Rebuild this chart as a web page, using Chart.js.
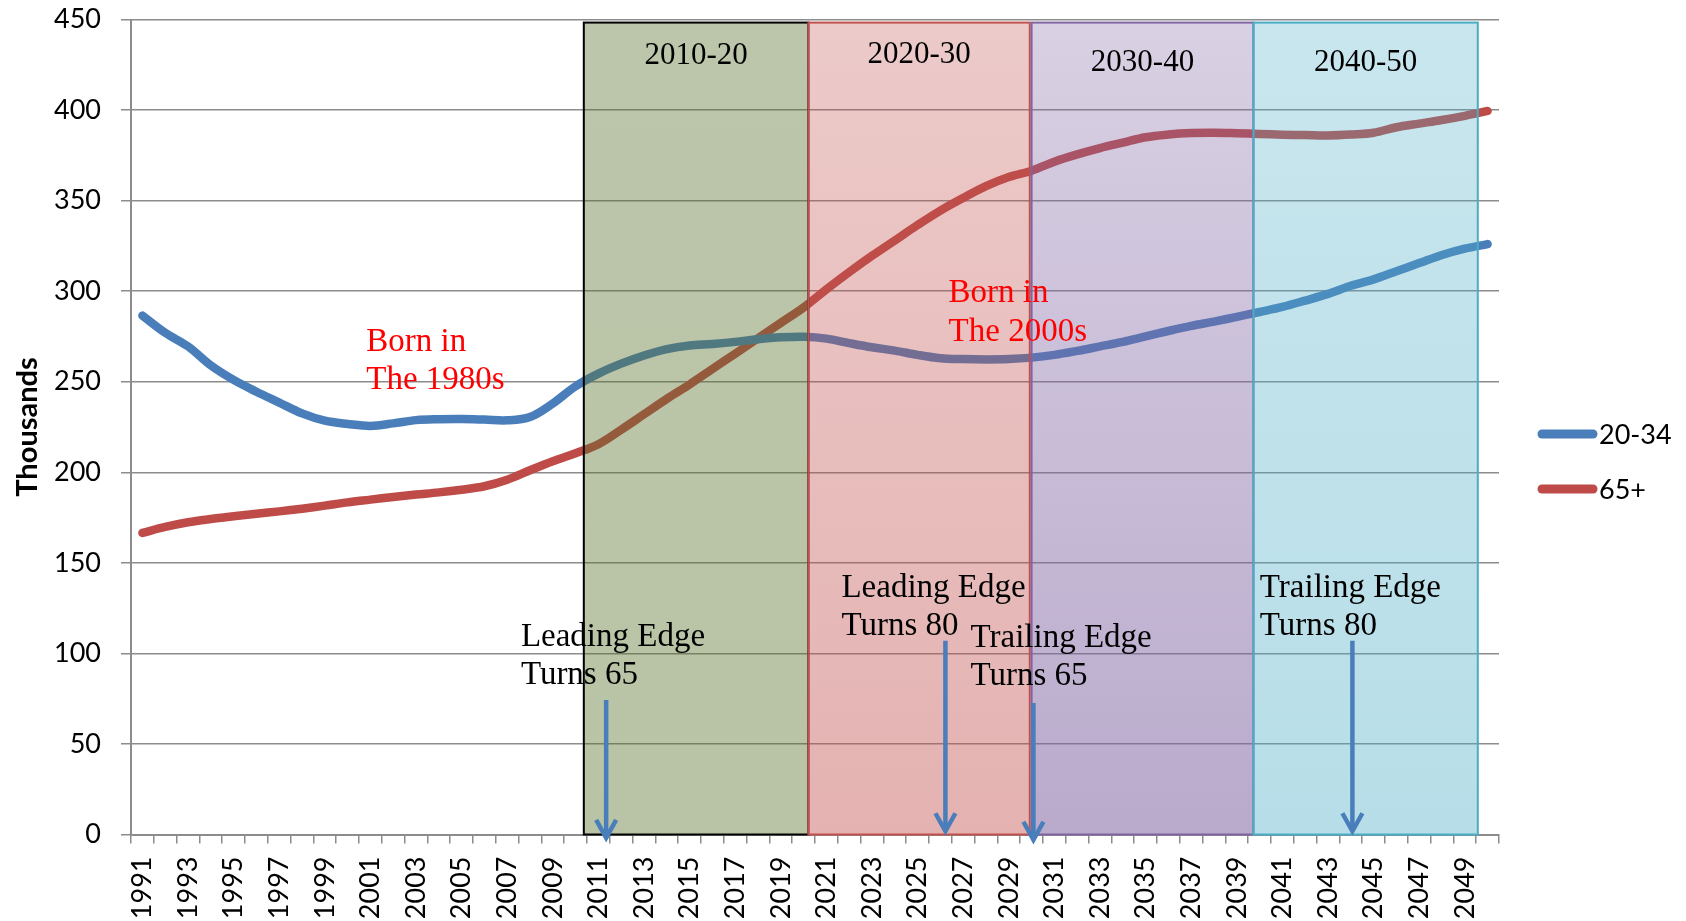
<!DOCTYPE html>
<html>
<head>
<meta charset="utf-8">
<script src="https://cdn.jsdelivr.net/npm/chart.js@4.4.1/dist/chart.umd.min.js"></script>
<style>
  html, body { margin: 0; padding: 0; background: #fff; }
  canvas { display: block; }
</style>
</head>
<body>
<canvas id="popChart" width="1686" height="921"></canvas>
<script>
// --- DATA ---
const years = [
  '1991','1992','1993','1994','1995','1996','1997','1998','1999','2000',
  '2001','2002','2003','2004','2005','2006','2007','2008','2009','2010',
  '2011','2012','2013','2014','2015','2016','2017','2018','2019','2020',
  '2021','2022','2023','2024','2025','2026','2027','2028','2029','2030',
  '2031','2032','2033','2034','2035','2036','2037','2038','2039','2040',
  '2041','2042','2043','2044','2045','2046','2047','2048','2049','2050'
];

// 20-34 (thousands)
const age2034 = [
  286.5, 277, 269.5, 259, 251, 244.5, 238.5, 232.5, 228.5, 226.7,
  225.6, 227, 228.8, 229.3, 229.4, 229.1, 228.7, 230.5, 238, 247.5,
  254.5, 260, 264.5, 268, 270, 270.8, 272, 273.5, 274.5, 274.8,
  273.8, 271.3, 269, 267.2, 264.8, 263, 262.5, 262.3, 262.5, 263.3,
  264.8, 267, 269.5, 272, 275, 278, 280.8, 283.2, 285.8, 288.5,
  291.3, 294.8, 298.5, 303, 306.5, 311, 315.5, 320, 323.5, 326
];

// 65+ (thousands)
const age65 = [
  166.5, 169.8, 172.4, 174.2, 175.7, 177.1, 178.4, 179.9, 181.6, 183.4,
  184.9, 186.4, 187.7, 188.9, 190.4, 192.3, 195.9, 201.1, 206.1, 210.5,
  215.5, 223.5, 232, 240.5, 248.5, 257, 265.5, 274, 282.5, 291,
  301, 310.5, 319.5, 328, 336.5, 344.5, 351.5, 358, 363, 366.5,
  371.5, 375.5, 379, 382, 385, 386.5, 387.3, 387.5, 387.2, 386.8,
  386.4, 386.2, 386, 386.5, 387.5, 390.5, 392.5, 394.5, 396.8, 399.5
];

const seriesNames = ['20-34', '65+'];
const yMin = 0, yMax = 450, yStep = 50;

// decade bands (in years) and their labels
const decadeLabels = ['2010-20', '2020-30', '2030-40', '2040-50'];
const decadeFrom = [2010.36, 2020.21, 2030.0, 2039.73];
const decadeTo   = [2020.21, 2029.92, 2039.73, 2049.57];
const decadeTop  = 448.3;
const decadeLabelValue = [425.2, 425.8, 421.7, 421.7];

// text notes: anchored at (year, value) of first line baseline
const noteText = [
  ['Born in', 'The 1980s'],
  ['Born in', 'The 2000s'],
  ['Leading Edge', 'Turns 65'],
  ['Leading Edge', 'Turns 80'],
  ['Trailing Edge', 'Turns 65'],
  ['Trailing Edge', 'Turns 80']
];
const noteYear  = [2000.82, 2026.36, 2007.6, 2021.66, 2027.32, 2040.01];
const noteValue = [267.2, 293.8, 104.1, 131.3, 103.7, 131.3];
const noteRed   = [true, true, false, false, false, false];

// arrows: year, start value, end value
const arrowYear = [2011.34, 2026.22, 2030.08, 2044.07];
const arrowFrom = [74.3, 107, 72.6, 107];
const arrowTo   = [-3, 0.7, -4, 0.7];

// --- STYLE ---
const BLUE = '#4a7ebb';
const RED = '#be4b48';
const GRID = '#8c8c8c';
const SERIF = '"Liberation Serif", "Times New Roman", serif';
const bandStyle = [
  { rgb: '88,112,42',   a0: 0.40, a1: 0.42, line: '#000000' },
  { rgb: '192,80,77',   a0: 0.30, a1: 0.44, line: '#c0504d' },
  { rgb: '128,100,162', a0: 0.30, a1: 0.55, line: '#8064a2' },
  { rgb: '75,172,198',  a0: 0.30, a1: 0.40, line: '#4bacc6' }
];

Chart.defaults.font.family = 'Lato, "Open Sans", sans-serif';
Chart.defaults.color = '#000';

const decorPlugin = {
  id: 'decor',
  beforeDraw(chart) {
    const ctx = chart.ctx;
    ctx.save();
    ctx.fillStyle = '#fff';
    ctx.fillRect(0, 0, chart.width, chart.height);
    ctx.restore();
  },
  afterDatasetsDraw(chart) {
    const { ctx, scales: { x, y } } = chart;
    const px = yr => x.getPixelForValue(yr - Number(years[0]));

    // decade bands on top of the lines
    decadeLabels.forEach((lab, i) => {
      const x0 = px(decadeFrom[i]), x1 = px(decadeTo[i]);
      const y0 = y.getPixelForValue(decadeTop), y1 = y.getPixelForValue(0);
      const st = bandStyle[i];
      const g = ctx.createLinearGradient(0, y0, 0, y1);
      g.addColorStop(0, `rgba(${st.rgb},${st.a0})`);
      g.addColorStop(1, `rgba(${st.rgb},${st.a1})`);
      ctx.save();
      ctx.fillStyle = g;
      ctx.fillRect(x0, y0, x1 - x0, y1 - y0);
      ctx.strokeStyle = st.line;
      ctx.lineWidth = 2;
      ctx.strokeRect(x0, y0, x1 - x0, y1 - y0);
      ctx.restore();
    });

    ctx.save();
    ctx.fillStyle = '#000';
    ctx.font = `31px ${SERIF}`;
    ctx.textAlign = 'center';
    ctx.textBaseline = 'alphabetic';
    decadeLabels.forEach((lab, i) => {
      const cx = (px(decadeFrom[i]) + px(decadeTo[i])) / 2;
      ctx.fillText(lab, cx, y.getPixelForValue(decadeLabelValue[i]));
    });

    // notes
    ctx.textAlign = 'left';
    ctx.font = `33px ${SERIF}`;
    noteText.forEach((lines, i) => {
      ctx.fillStyle = noteRed[i] ? '#ff0000' : '#000';
      const tx = px(noteYear[i]);
      const ty = y.getPixelForValue(noteValue[i]);
      lines.forEach((t, k) => ctx.fillText(t, tx, ty + k * 38.5));
    });

    // arrows
    ctx.strokeStyle = BLUE;
    ctx.lineWidth = 4.5;
    ctx.lineJoin = 'miter';
    arrowYear.forEach((yr, i) => {
      const ax = px(yr);
      const a0 = y.getPixelForValue(arrowFrom[i]);
      const a1 = y.getPixelForValue(arrowTo[i]);
      ctx.beginPath();
      ctx.moveTo(ax, a0);
      ctx.lineTo(ax, a1 - 2);
      ctx.stroke();
      ctx.beginPath();
      ctx.moveTo(ax - 10, a1 - 20);
      ctx.lineTo(ax, a1 - 2);
      ctx.lineTo(ax + 10, a1 - 20);
      ctx.stroke();
    });
    ctx.restore();
  },
  afterDraw(chart) {
    // legend at the right
    const { ctx, chartArea } = chart;
    const lx = chartArea.right + 43;
    const rows = [434, 489];
    ctx.save();
    ctx.lineCap = 'round';
    ctx.lineWidth = 9;
    ctx.font = '27px Lato, sans-serif';
    ctx.textBaseline = 'middle';
    ctx.textAlign = 'left';
    [BLUE, RED].forEach((c, i) => {
      ctx.strokeStyle = c;
      ctx.beginPath();
      ctx.moveTo(lx, rows[i]);
      ctx.lineTo(lx + 51, rows[i]);
      ctx.stroke();
      ctx.fillStyle = '#000';
      ctx.fillText(seriesNames[i], lx + 57, rows[i] + 1);
    });
    ctx.restore();
  }
};

const lineStyle = {
  borderWidth: 8.5,
  pointRadius: 0,
  pointHoverRadius: 0,
  tension: 0.35,
  borderCapStyle: 'round',
  borderJoinStyle: 'round',
  fill: false,
  clip: false
};

new Chart(document.getElementById('popChart'), {
  type: 'line',
  data: {
    labels: years,
    datasets: [
      { label: seriesNames[0], data: age2034, borderColor: BLUE, ...lineStyle },
      { label: seriesNames[1], data: age65, borderColor: RED, ...lineStyle }
    ]
  },
  options: {
    responsive: false,
    animation: false,
    devicePixelRatio: 1,
    layout: { padding: { top: 19.5, right: 187, left: 0, bottom: 0 } },
    plugins: { legend: { display: false }, tooltip: { enabled: false } },
    scales: {
      x: {
        offset: true,
        grid: { offset: true, drawOnChartArea: false, drawTicks: true, tickLength: 9, color: GRID, lineWidth: 1.5 },
        border: { display: true, color: GRID, width: 2 },
        ticks: {
          autoSkip: false, minRotation: 90, maxRotation: 90, padding: 13,
          font: { size: 27 }, color: '#000',
          callback: (v, i) => (i % 2 === 0 ? years[i] : '')
        },
        afterFit: s => { s.height = 86.5; }
      },
      y: {
        min: yMin, max: yMax,
        ticks: { stepSize: yStep, padding: 20, font: { size: 27 }, color: '#000' },
        grid: { color: GRID, lineWidth: 1.5, tickLength: 10 },
        border: { display: true, color: GRID, width: 2 },
        title: { display: true, text: 'Thousands', font: { size: 29, weight: 'bold' }, color: '#000', padding: { top: 10, bottom: 0 } },
        afterFit: s => { s.width = 131; s.paddingTop = 0; s.paddingBottom = 0; }
      }
    }
  },
  plugins: [decorPlugin]
});
</script>
</body>
</html>
